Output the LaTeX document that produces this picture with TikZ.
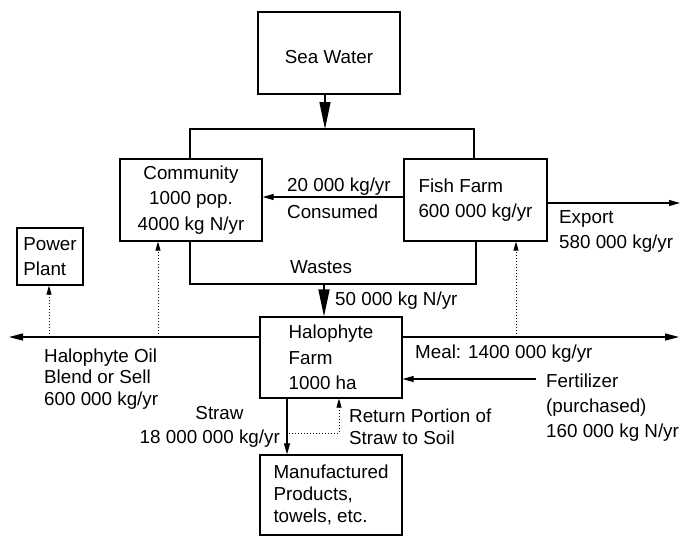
\documentclass[tikz,border=0pt]{standalone}
\usepackage{fontspec}
\setmainfont{Liberation Sans}
\usetikzlibrary{arrows.meta}
\begin{document}
\begin{tikzpicture}[x=1pt,y=-1pt,
  every node/.style={font=\fontsize{18.8}{25.5}\selectfont, inner sep=0pt},
  box/.style={draw, line width=1.2pt, align=left},
  lbl/.style={align=left},
  thinarrow/.style={line width=1.1pt, -{Triangle[length=11pt,width=6pt]}},
  bigarrow/.style={line width=1.4pt, -{Triangle[length=27pt,width=11pt]}},
  dotarrow/.style={line width=1pt, dotted, -{Triangle[length=9pt,width=5pt]}},
  mainline/.style={line width=1.2pt},
]
\useasboundingbox (0,0) rectangle (681,536);
\fill[white] (0,0) rectangle (681,536);

% boxes
\node[box, minimum width=142pt, minimum height=82pt, text height=21.5pt] (sea) at (329,53) {Sea Water};
\node[box, align=center, minimum width=142pt, minimum height=82pt] (comm) at (191,200) {Community\\1000 pop.\\4000 kg N/yr};
\node[box, minimum width=143pt, minimum height=82pt] (fish) at (475.5,200) {Fish Farm\\600 000 kg/yr};
\node[box, minimum width=66pt, minimum height=57pt] (pp) at (50,256.5) {Power\\Plant};
\node[box, minimum width=142pt, minimum height=81pt] (halo) at (331,357.5) {Halophyte\\Farm\\1000 ha};
\node[box, minimum width=142pt, minimum height=80pt, font=\fontsize{18.8}{22}\selectfont] (manu) at (331,495) {Manufactured\\Products,\\towels, etc.};

% labels
\node[anchor=base west] (c20) at (287,191) {20 000 kg/yr};
\node[anchor=base west] (cons) at (287,218) {Consumed};
\node[lbl, anchor=north west, font=\fontsize{18.8}{25}\selectfont] (export) at (559,210.4) {Export\\580 000 kg/yr};
\node[anchor=base] (wastes) at (321,273) {Wastes};
\node[anchor=base west] (n50) at (335,305) {50 000 kg N/yr};
\node[lbl, anchor=north west, font=\fontsize{18.8}{21.7}\selectfont] (oil) at (44,348.4) {Halophyte Oil\\Blend or Sell\\600 000 kg/yr};
\node[anchor=base west] (meal) at (415,358) {Meal: 1400 000 kg/yr};
\node[lbl, anchor=north west, font=\fontsize{18.8}{25}\selectfont] (fert) at (546,373.4) {Fertilizer\\(purchased)\\160 000 kg N/yr};
\node[anchor=base] (straw) at (219.5,419) {Straw};
\node[anchor=base east] (strawamt) at (280,443) {18 000 000 kg/yr};
\node[lbl, anchor=north west, font=\fontsize{18.8}{22}\selectfont] (ret) at (349,408.4) {Return Portion of\\Straw to Soil};

% coordinates
\coordinate (jl) at (190,129);
\coordinate (jr) at (474,129);
\coordinate (jm) at (325,129);
\coordinate (wl) at (190,284);
\coordinate (wr) at (476,284);
\coordinate (wm) at (324,284);
\coordinate (cy) at (0,197);
\coordinate (ex) at (680,203);
\coordinate (ly) at (0,337);
\coordinate (lend) at (9,337);
\coordinate (rend) at (679,337);
\coordinate (d1) at (49,337);
\coordinate (d2) at (158,337);
\coordinate (d3) at (516,337);
\coordinate (fz) at (536,379);
\coordinate (sx) at (287,0);
\coordinate (r1) at (289,433);
\coordinate (r2) at (339,433);

% sea water distribution
\draw[line width=2pt] (jl |- comm.north) -- (jl) -- (jr) -- (jr |- fish.north);
\draw[bigarrow] (jm |- sea.south) -- (jm);

% consumed
\draw[thinarrow] (fish.west |- cy) -- (comm.east |- cy);
% export
\draw[thinarrow] (fish.east |- ex) -- (ex);

% wastes
\draw[line width=2.2pt] (wl |- comm.south) -- (wl) -- (wr) -- (wr |- fish.south);
\draw[bigarrow] (wm) -- (wm |- halo.north);

% main line
\draw[mainline, -{Triangle[length=14pt,width=7pt]}] (halo.west |- ly) -- (lend);
\draw[mainline, -{Triangle[length=14pt,width=7pt]}] (halo.east |- ly) -- (rend);

% dotted uses
\draw[dotarrow] (d1) -- (d1 |- pp.south);
\draw[dotarrow] (d2) -- (d2 |- comm.south);
\draw[dotarrow] (d3) -- (d3 |- fish.south);

% fertilizer
\draw[thinarrow] (fz) -- (halo.east |- fz);

% straw
\draw[thinarrow] (sx |- halo.south) -- (sx |- manu.north);
\draw[dotarrow] (r1) -- (r2) -- (r2 |- halo.south);
\end{tikzpicture}
\end{document}
